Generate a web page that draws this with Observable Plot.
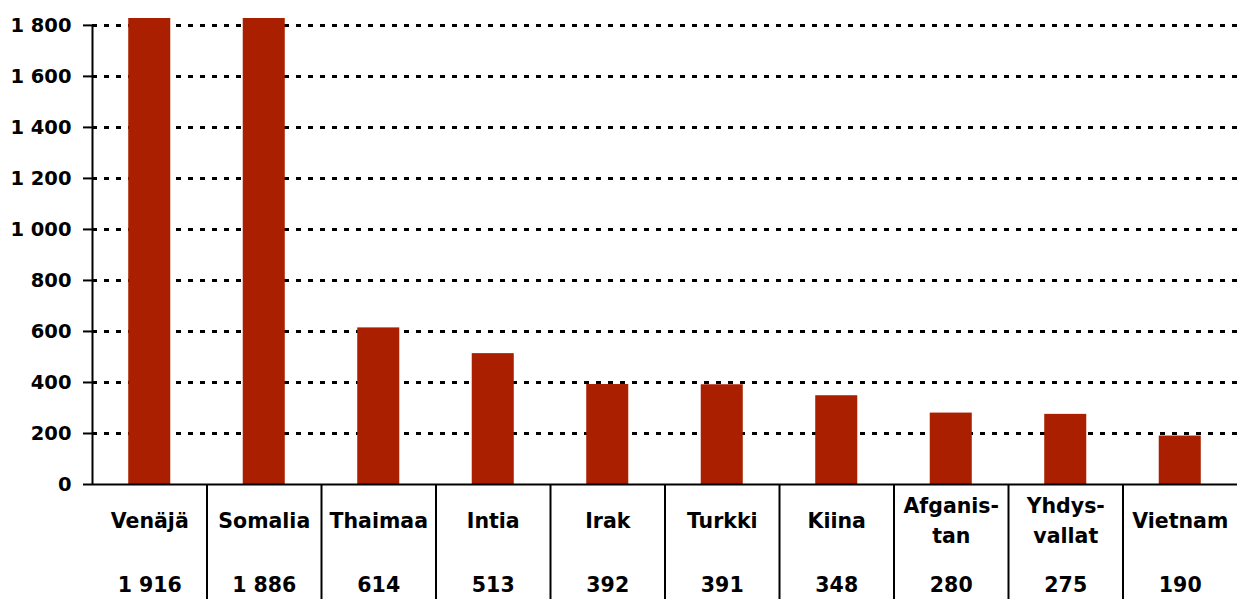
<!DOCTYPE html>
<html>
<head>
<meta charset="utf-8">
<script src="https://cdn.jsdelivr.net/npm/d3@7"></script>
<script src="https://cdn.jsdelivr.net/npm/@observablehq/plot@0.6"></script>
<style>
  html, body { margin: 0; padding: 0; background: #fff; }
  #chart svg { display: block; overflow: visible; }
  svg [aria-label^="y-axis"] path, svg [aria-label^="y-axis"] line { stroke-width: 2px; }
</style>
</head>
<body>
<div id="chart"></div>
<script>
// Data
const categories = ["Venäjä", "Somalia", "Thaimaa", "Intia", "Irak", "Turkki", "Kiina", "Afganistan", "Yhdysvallat", "Vietnam"];
const categoryLabels = ["Venäjä", "Somalia", "Thaimaa", "Intia", "Irak", "Turkki", "Kiina", "Afganis-\ntan", "Yhdys-\nvallat", "Vietnam"];
const values = [1916, 1886, 614, 513, 392, 391, 348, 280, 275, 190];
const yTicks = [0, 200, 400, 600, 800, 1000, 1200, 1400, 1600, 1800];
const yMax = 1827;

const fmt = d => String(d).replace(/\B(?=(\d{3})+(?!\d))/g, " ");
const rows = categories.map((c, i) => ({category: c, label: categoryLabels[i], value: values[i]}));

const W = 1237, H = 599;
const mL = 92, mR = 0, mT = 18, mB = 115;
const step = (W - mL - mR) / categories.length;
const frameH = H - mT - mB;

const chart = Plot.plot({
  width: W,
  height: H,
  marginLeft: mL,
  marginRight: mR,
  marginTop: mT,
  marginBottom: mB,
  style: {fontFamily: "DejaVu Sans, sans-serif", fontSize: "19.5px", fontWeight: "bold", color: "#000", background: "#fff"},
  x: {domain: categories, axis: null, round: false, paddingInner: 0.633, paddingOuter: 0.3165},
  y: {domain: [0, yMax], clamp: true, ticks: yTicks, tickFormat: fmt, tickSize: 9, tickPadding: 12, label: null},
  marks: [
    Plot.ruleY(yTicks.filter(d => d > 0), {y: d => d, stroke: "#000", strokeWidth: 3, strokeDasharray: "5,7"}),
    Plot.barY(rows, {x: "category", y: "value", fill: "#aa1f00"}),
    Plot.ruleY([0], {stroke: "#000", strokeWidth: 2}),
    Plot.ruleX([categories[0]], {x: d => d, dx: -step / 2, y1: 0, y2: yTicks[yTicks.length - 1], stroke: "#000", strokeWidth: 2}),
    Plot.ruleX(categories.slice(1), {x: d => d, dx: -step / 2, insetTop: frameH, insetBottom: -mB, stroke: "#000", strokeWidth: 2}),
    Plot.text(rows, {x: "category", text: "label", frameAnchor: "bottom", dy: 34, lineAnchor: "middle", lineHeight: 1.45, fontSize: 20.5, fontWeight: "bold", fill: "#000"}),
    Plot.text(rows, {x: "category", text: d => fmt(d.value), frameAnchor: "bottom", dy: 101, lineAnchor: "middle", fontSize: 20.5, fontWeight: "bold", fill: "#000"})
  ]
});
document.getElementById("chart").appendChild(chart);
</script>
</body>
</html>
